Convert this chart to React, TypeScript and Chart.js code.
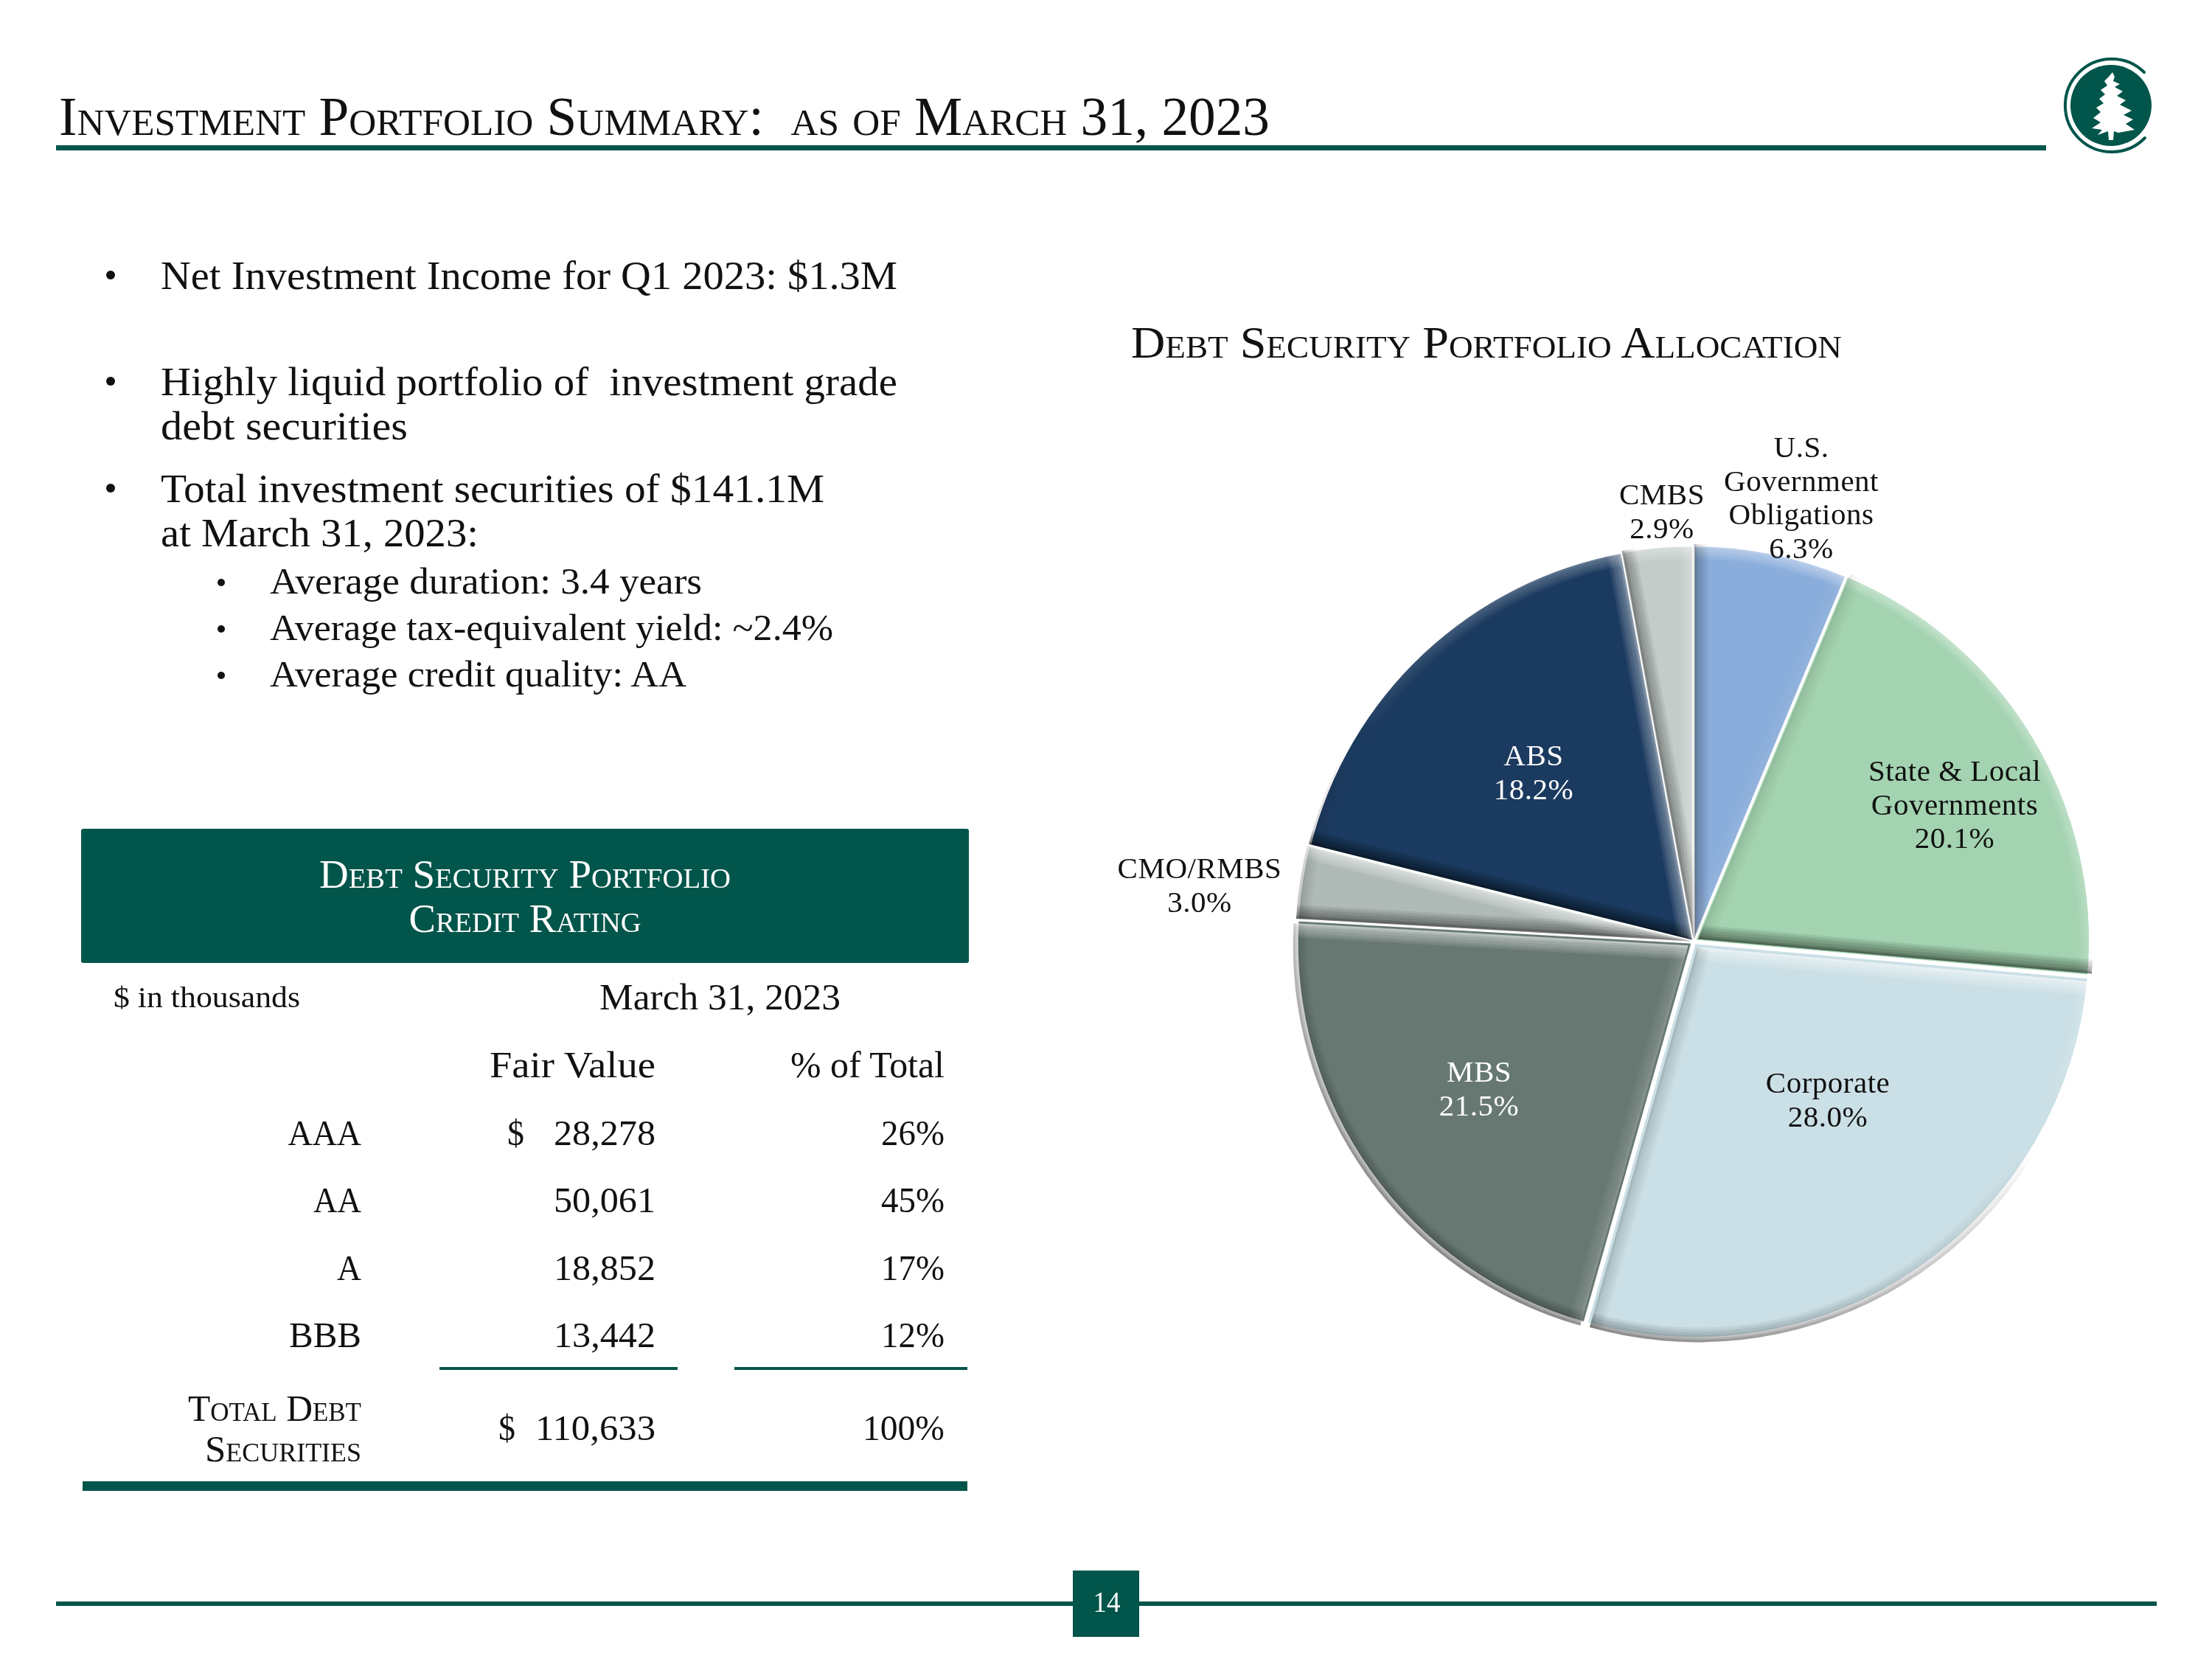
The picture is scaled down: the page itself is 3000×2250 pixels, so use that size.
import React, { useEffect, useRef } from "react";
import { Chart, registerables } from "chart.js";

Chart.register(...registerables);

const categories = ["U.S. Government Obligations", "State & Local Governments", "Corporate", "MBS", "CMO/RMBS", "ABS", "CMBS"];
const sliceLabels = [
  ["U.S.", "Government", "Obligations", "6.3%"],
  ["State & Local", "Governments", "20.1%"],
  ["Corporate", "28.0%"],
  ["MBS", "21.5%"],
  ["CMO/RMBS", "3.0%"],
  ["ABS", "18.2%"],
  ["CMBS", "2.9%"],
];
const allocation = [6.3, 20.1, 28.0, 21.5, 3.0, 18.2, 2.9];
const sliceColors = ["#8AADDB", "#A3D3B0", "#CBE0E6", "#677873", "#B0BBB7", "#1B3A5F", "#C3CCC9"];
const sliceOffsets = [3, 7, 9, 9, 4, 3, 3];
const labelColors = ["#111", "#111", "#111", "#fff", "#111", "#fff", "#111"];
const labelCenters = [[2443, 620], [2651, 1059], [2479, 1482], [2006, 1467], [1627, 1191], [2080, 1038], [2254, 684]];

const ratingLabels = ["AAA", "AA", "A", "BBB"];
const fairValues = ["28,278", "50,061", "18,852", "13,442"];
const percentOfTotal = ["26%", "45%", "17%", "12%"];

const GREEN = "#02554A";
const FONT = '"Liberation Serif", serif';
const LIGHT = [0.5, -0.85];

function shadeColor(nx: number, ny: number, gain: number) {
  const d = nx * LIGHT[0] + ny * LIGHT[1];
  return d >= 0 ? `rgba(255,255,255,${(d * 0.12 * gain).toFixed(3)})` : `rgba(0,0,0,${(-d * 0.1 * gain).toFixed(3)})`;
}

const bevelPlugin = {
  id: "bevel",
  afterDatasetsDraw(chart: any) {
    const ctx = chart.ctx;
    chart.getDatasetMeta(0).data.forEach((arc: any) => {
      const { startAngle: a0, endAngle: a1, outerRadius: r, x, y } = arc;
      const off = arc.options.offset || 0;
      const mid = (a0 + a1) / 2;
      const cx = x + Math.cos(mid) * off;
      const cy = y + Math.sin(mid) * off;
      ctx.save();
      ctx.beginPath();
      ctx.moveTo(cx, cy);
      ctx.arc(cx, cy, r, a0, a1);
      ctx.closePath();
      ctx.clip();
      ctx.lineCap = "butt";
      const passes: [number, number][] = [[38, 0.7], [32, 0.7], [26, 0.8], [18, 0.9], [10, 1.2], [5, 1.6]];
      for (const [w, gain] of passes) {
        ctx.lineWidth = w;
        const grad = ctx.createConicGradient(0, cx, cy);
        for (let s = 0; s <= 72; s++) {
          const t = (s / 72) * Math.PI * 2;
          grad.addColorStop(s / 72, shadeColor(Math.cos(t), Math.sin(t), gain));
        }
        ctx.strokeStyle = grad;
        ctx.beginPath();
        ctx.arc(cx, cy, r - 1, a0, a1);
        ctx.stroke();
        for (const [ang, sign] of [[a0, -1], [a1, 1]] as [number, number][]) {
          const nx = Math.cos(ang + (sign * Math.PI) / 2);
          const ny = Math.sin(ang + (sign * Math.PI) / 2);
          ctx.strokeStyle = shadeColor(nx, ny, gain * 1.3);
          ctx.beginPath();
          ctx.moveTo(cx, cy);
          ctx.lineTo(cx + Math.cos(ang) * r, cy + Math.sin(ang) * r);
          ctx.stroke();
        }
      }
      ctx.restore();
    });
  },
};

const labelPlugin = {
  id: "sliceLabels",
  afterDraw(chart: any) {
    const ctx = chart.ctx;
    ctx.save();
    ctx.font = `41px ${FONT}`;
    ctx.textAlign = "center";
    ctx.textBaseline = "alphabetic";
    (ctx as any).letterSpacing = "0.5px";
    sliceLabels.forEach((lines, i) => {
      ctx.fillStyle = labelColors[i];
      lines.forEach((line, j) => {
        ctx.fillText(line, labelCenters[i][0], labelCenters[i][1] + j * 45.5);
      });
    });
    ctx.restore();
  },
};

type TProps = { x: number; y: number; w?: number; size: number; anchor?: string; fill?: string; caps?: boolean; children: string };
function T({ x, y, w, size, anchor = "start", fill = "#111", caps, children }: TProps) {
  return (
    <text
      x={x}
      y={y}
      textAnchor={anchor}
      fill={fill}
      fontSize={size}
      fontFamily={FONT}
      xmlSpace="preserve"
      style={caps ? { fontVariant: "small-caps" } : undefined}
      {...(w ? { textLength: w, lengthAdjust: "spacingAndGlyphs" } : {})}
    >
      {children}
    </text>
  );
}

function Bullet({ x, y, r = 6 }: { x: number; y: number; r?: number }) {
  return <circle cx={x} cy={y} r={r} fill="#111" />;
}

const TREE_RIGHT: [number, number][] = [[98, 2], [104, 5], [110, 3], [114, 12], [118, 5], [124, 16], [130, 8], [136, 20], [142, 12], [150, 28], [156, 17], [162, 30], [168, 20], [176, 32], [180, 10], [178, 4], [190, 3]];
const TREE_LEFT: [number, number][] = [[190, -3], [178, -4], [183, -18], [176, -12], [174, -26], [166, -14], [160, -24], [152, -14], [146, -20], [140, -10], [134, -16], [128, -8], [122, -14], [116, -5], [110, -9], [104, -3]];
const TREE = "M" + [...TREE_RIGHT, ...TREE_LEFT].map(([y, dx]) => `${2863 + dx} ${y}`).join(" L") + " Z";

export default function App() {
  const ref = useRef<HTMLCanvasElement>(null);
  useEffect(() => {
    const R = 536;
    const CX = 2297;
    const CY = 1277;
    const chart = new Chart(ref.current!, {
      type: "pie",
      data: {
        labels: categories,
        datasets: [
          {
            data: allocation,
            backgroundColor: sliceColors,
            borderColor: "#ffffff",
            borderWidth: 3,
            offset: sliceOffsets,
          } as any,
        ],
      },
      options: {
        responsive: false,
        animation: false,
        radius: R,
        layout: { padding: { left: CX - R, right: 3000 - CX - R, top: CY - R, bottom: 2250 - CY - R } },
        plugins: { legend: { display: false }, tooltip: { enabled: false } },
      } as any,
      plugins: [bevelPlugin, labelPlugin],
    });
    return () => chart.destroy();
  }, []);

  const rowY = [1553, 1644, 1736, 1827];
  const labelW = [99.5, 65, 33, 98];

  return (
    <div style={{ position: "absolute", left: 0, top: 0, width: 3000, height: 2250, background: "#fff", overflow: "hidden" }}>
      <canvas ref={ref} width={3000} height={2250} style={{ position: "absolute", left: 0, top: 0, width: 3000, height: 2250 }} />
      <svg width={3000} height={2250} style={{ position: "absolute", left: 0, top: 0 }}>
        <T x={80} y={183} w={1642} size={73} caps>{"Investment Portfolio Summary:  as of March 31, 2023"}</T>
        <rect x={76} y={197} width={2699} height={7} fill={GREEN} />

        <circle cx={2863} cy={143} r={55} fill={GREEN} />
        <path d={`M2908 98 A63 63 0 1 0 2909 187`} fill="none" stroke={GREEN} strokeWidth={4} strokeLinecap="round" />
        <path d={TREE} fill="#fff" />

        <Bullet x={150} y={373} />
        <T x={218} y={392} w={999} size={54}>Net Investment Income for Q1 2023: $1.3M</T>
        <Bullet x={150} y={517} />
        <T x={218} y={536} w={999} size={54}>{"Highly liquid portfolio of  investment grade"}</T>
        <T x={218} y={596} w={335} size={54}>debt securities</T>
        <Bullet x={150} y={662} />
        <T x={218} y={681} w={900} size={54}>Total investment securities of $141.1M</T>
        <T x={218} y={741} w={431} size={54}>at March 31, 2023:</T>
        <Bullet x={300} y={790} r={5} />
        <T x={366} y={805} w={586} size={50}>Average duration: 3.4 years</T>
        <Bullet x={300} y={853} r={5} />
        <T x={366} y={868} w={764} size={50}>Average tax-equivalent yield: ~2.4%</T>
        <Bullet x={300} y={916} r={5} />
        <T x={366} y={931} w={565} size={50}>Average credit quality: AA</T>

        <T x={1534} y={485} w={964} size={61} caps>Debt Security Portfolio Allocation</T>

        <rect x={110} y={1124} width={1204} height={182} rx={3} fill={GREEN} />
        <T x={712} y={1204} w={558} size={54} anchor="middle" fill="#fff" caps>Debt Security Portfolio</T>
        <T x={712} y={1264} w={315} size={54} anchor="middle" fill="#fff" caps>Credit Rating</T>
        <T x={154} y={1366} w={253} size={41}>$ in thousands</T>
        <T x={813} y={1369} w={327} size={50}>March 31, 2023</T>
        <T x={889} y={1461} w={225} size={50} anchor="end">Fair Value</T>
        <T x={1281} y={1461} w={209} size={50} anchor="end">% of Total</T>

        {ratingLabels.map((label, i) => (
          <T key={label} x={490} y={rowY[i]} w={labelW[i]} size={49} anchor="end">{label}</T>
        ))}
        {fairValues.map((v, i) => (
          <T key={v} x={889} y={rowY[i]} w={138} size={49} anchor="end">{v}</T>
        ))}
        {percentOfTotal.map((v, i) => (
          <T key={v} x={1281} y={rowY[i]} w={86} size={49} anchor="end">{v}</T>
        ))}
        <T x={688} y={1553} w={23} size={49}>$</T>
        <rect x={596} y={1854} width={323} height={4} fill={GREEN} />
        <rect x={996} y={1854} width={316} height={4} fill={GREEN} />
        <T x={490} y={1927} w={235} size={51} anchor="end" caps>Total Debt</T>
        <T x={490} y={1982} w={212} size={51} anchor="end" caps>Securities</T>
        <T x={676} y={1953} w={23} size={49}>$</T>
        <T x={889} y={1953} w={163} size={49} anchor="end">110,633</T>
        <T x={1281} y={1953} w={111} size={49} anchor="end">100%</T>
        <rect x={112} y={2009} width={1200} height={13} fill={GREEN} />

        <rect x={76} y={2172} width={2849} height={6} fill={GREEN} />
        <rect x={1455} y={2130} width={90} height={90} fill={GREEN} />
        <T x={1501} y={2186} w={37} size={39} anchor="middle" fill="#fff">14</T>
      </svg>
    </div>
  );
}
